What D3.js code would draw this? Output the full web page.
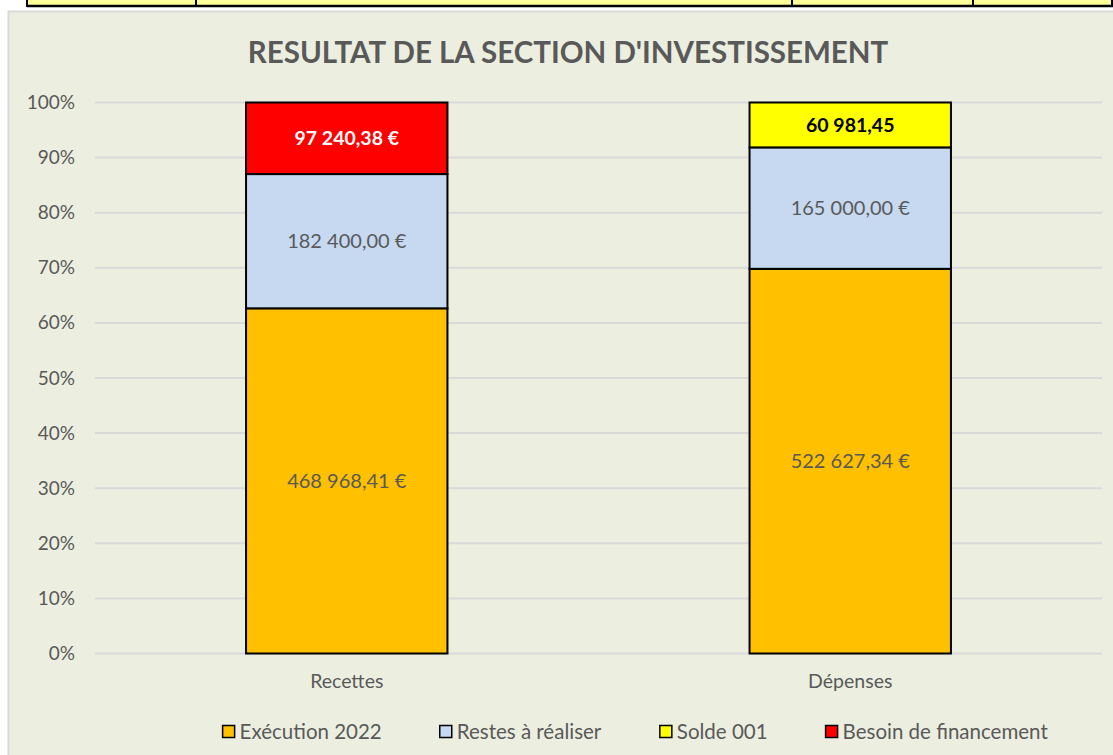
<!DOCTYPE html>
<html>
<head>
<meta charset="utf-8">
<script src="https://cdn.jsdelivr.net/npm/d3@7"></script>
<style>
  body { margin: 0; background: #ffffff; }
  svg { display: block; font-family: Lato, "Open Sans", sans-serif; }
</style>
</head>
<body>
<script>
// chart values
var categories = ["Recettes", "Dépenses"];
var seriesNames = ["Exécution 2022", "Restes à réaliser", "Solde 001", "Besoin de financement"];
var execution = [468968.41, 522627.34];
var restes = [182400.00, 165000.00];
var solde = [0, 60981.45];
var besoin = [97240.38, 0];
var yTicks = [0, 0.1, 0.2, 0.3, 0.4, 0.5, 0.6, 0.7, 0.8, 0.9, 1];

var colors = ["#FFC000", "#C6D9F1", "#FFFF00", "#FF0000"];
var labelColors = ["#595959", "#595959", "#000000", "#ffffff"];
var labelBold = [false, false, true, true];
var withEuro = [true, true, false, true];

var width = 1113, height = 755;
var margin = { top: 102.5, right: 11, bottom: 101.5, left: 95 };

var fr = d3.formatLocale({ decimal: ",", thousands: " ", grouping: [3], currency: ["", " €"] });
var fmt = fr.format(",.2f");

var rows = categories.map(function(c, i) {
  return { cat: c, s0: execution[i], s1: restes[i], s2: solde[i], s3: besoin[i] };
});
var keys = ["s0", "s1", "s2", "s3"];
var stacked = d3.stack().keys(keys).offset(d3.stackOffsetExpand)(rows);

var svg = d3.select("body").append("svg")
  .attr("width", width)
  .attr("height", height);

// bit of the spreadsheet table above the chart
var cellX = [27, 196, 792, 973, 1112];
svg.append("rect").attr("x", 27).attr("y", -2).attr("width", 1085).attr("height", 8)
  .attr("fill", "#FFFF99").attr("stroke", "#000").attr("stroke-width", 2);
cellX.forEach(function(x) {
  svg.append("line").attr("x1", x).attr("x2", x).attr("y1", 0).attr("y2", 7)
    .attr("stroke", "#000").attr("stroke-width", 2);
});
svg.append("line").attr("x1", 27).attr("x2", 1113).attr("y1", 6).attr("y2", 6)
  .attr("stroke", "#000").attr("stroke-width", 2.5);

// chart area
svg.append("rect")
  .attr("x", 8.5).attr("y", 11.5)
  .attr("width", width + 20).attr("height", height)
  .attr("fill", "#ECEFE0")
  .attr("stroke", "#D9D9D9")
  .attr("stroke-width", 2);

var x = d3.scaleBand()
  .domain(categories)
  .range([margin.left, width - margin.right])
  .paddingInner(0.6)
  .paddingOuter(0.3);

var y = d3.scaleLinear()
  .domain([0, 1])
  .range([height - margin.bottom, margin.top]);

// title
svg.append("text")
  .attr("x", 568)
  .attr("y", 63)
  .attr("text-anchor", "middle")
  .attr("fill", "#595959")
  .attr("font-weight", "bold")
  .attr("font-size", 29.5)
  .text("RESULTAT DE LA SECTION D'INVESTISSEMENT");

// gridlines
svg.append("g")
  .selectAll("line")
  .data(yTicks)
  .enter()
  .append("line")
  .attr("x1", margin.left)
  .attr("x2", width - margin.right)
  .attr("y1", function(d) { return y(d); })
  .attr("y2", function(d) { return y(d); })
  .attr("stroke", "#D9D9D9")
  .attr("stroke-width", 2);

// y axis labels
var yAxis = svg.append("g")
  .attr("transform", "translate(" + (margin.left - 20) + ",0)")
  .call(d3.axisLeft(y).tickValues(yTicks).tickFormat(d3.format(".0%")).tickSize(0).tickPadding(0));
yAxis.select(".domain").remove();
yAxis.selectAll("text")
  .attr("fill", "#595959")
  .attr("font-size", 19)
  .attr("font-family", "Lato, 'Open Sans', sans-serif");

// x axis labels
var xAxis = svg.append("g")
  .attr("transform", "translate(0," + (height - margin.bottom) + ")")
  .call(d3.axisBottom(x).tickSize(0).tickPadding(21));
xAxis.select(".domain").remove();
xAxis.selectAll("text")
  .attr("fill", "#595959")
  .attr("font-size", 19.5)
  .attr("font-family", "Lato, 'Open Sans', sans-serif");

// bars
var layer = svg.append("g")
  .selectAll("g")
  .data(stacked)
  .enter()
  .append("g")
  .attr("fill", function(d, i) { return colors[i]; });

layer.selectAll("rect")
  .data(function(d) { return d; })
  .enter()
  .filter(function(d) { return d[1] - d[0] > 0; })
  .append("rect")
  .attr("x", function(d) { return x(d.data.cat); })
  .attr("y", function(d) { return y(d[1]); })
  .attr("width", x.bandwidth())
  .attr("height", function(d) { return y(d[0]) - y(d[1]); })
  .attr("stroke", "#000")
  .attr("stroke-width", 2);

// data labels
stacked.forEach(function(s, si) {
  svg.append("g")
    .selectAll("text")
    .data(s.filter(function(d) { return d[1] - d[0] > 0; }))
    .enter()
    .append("text")
    .attr("x", function(d) { return x(d.data.cat) + x.bandwidth() / 2; })
    .attr("y", function(d) { return (y(d[0]) + y(d[1])) / 2; })
    .attr("dy", "0.35em")
    .attr("text-anchor", "middle")
    .attr("font-size", labelBold[si] ? 19.5 : 20)
    .attr("font-weight", labelBold[si] ? "bold" : "normal")
    .attr("fill", labelColors[si])
    .text(function(d) {
      var v = d.data[s.key];
      return fmt(v) + (withEuro[si] ? " €" : "");
    });
});

// legend
var legend = svg.append("g");
var items = legend.selectAll("g")
  .data(seriesNames)
  .enter()
  .append("g");
items.append("rect")
  .attr("width", 12).attr("height", 12)
  .attr("y", -6.5)
  .attr("fill", function(d, i) { return colors[i]; })
  .attr("stroke", "#000")
  .attr("stroke-width", 1.5);
items.append("text")
  .attr("x", 17)
  .attr("dy", "0.35em")
  .attr("font-size", 20.5)
  .attr("fill", "#595959")
  .text(function(d) { return d; });

var pos = 0;
items.each(function() {
  var w = this.getBBox().width;
  d3.select(this).attr("transform", "translate(" + pos + ",0)");
  pos += w + 58;
});
var total = pos - 58;
legend.attr("transform", "translate(" + (635.5 - total / 2) + ",732)");
</script>
</body>
</html>
